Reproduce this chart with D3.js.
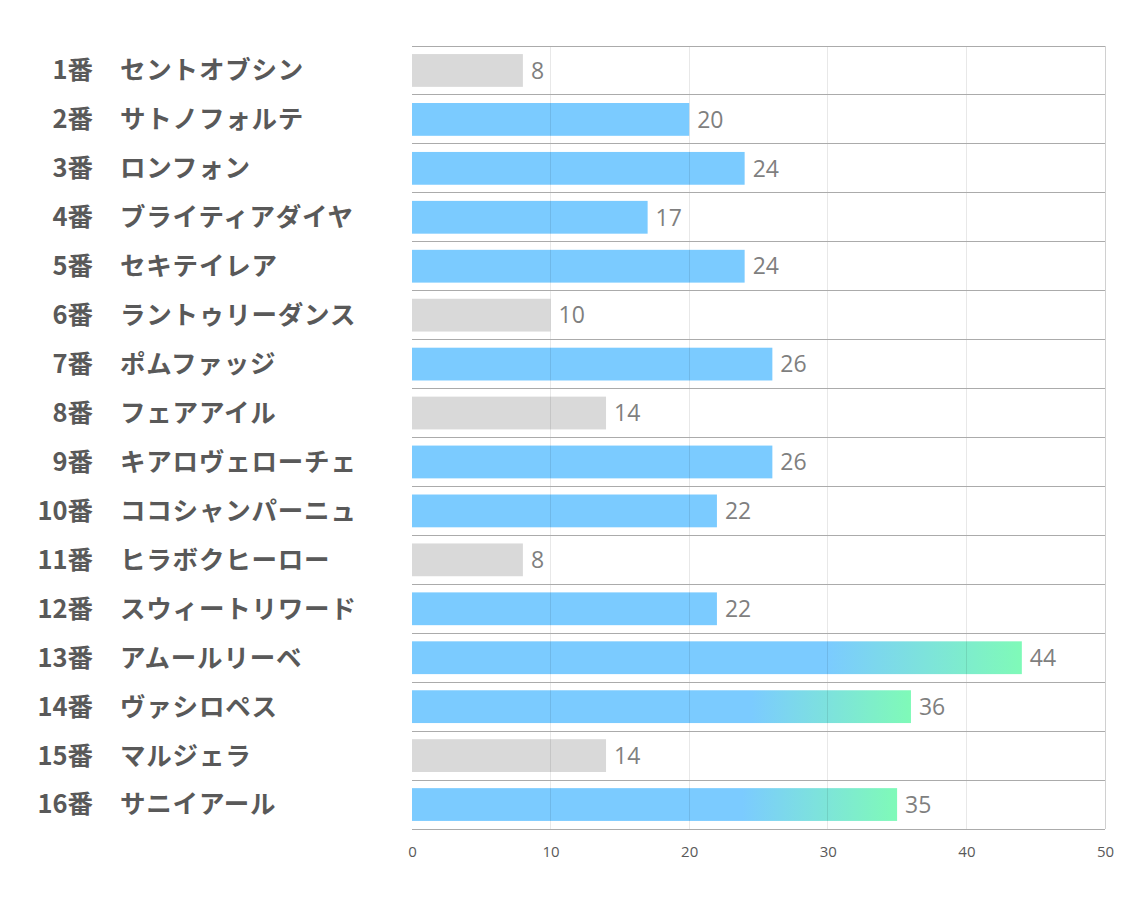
<!DOCTYPE html>
<html><head><meta charset="utf-8">
<script src="https://cdn.jsdelivr.net/npm/d3@7"></script>
<style>body{margin:0;background:#fff}svg{display:block}</style>
</head><body>
<svg id="c" width="1134" height="907"></svg>
<script>
const numbers = ["1番","2番","3番","4番","5番","6番","7番","8番","9番","10番","11番","12番","13番","14番","15番","16番"];
const names = ["セントオブシン","サトノフォルテ","ロンフォン","ブライティアダイヤ","セキテイレア","ラントゥリーダンス","ポムファッジ","フェアアイル","キアロヴェローチェ","ココシャンパーニュ","ヒラボクヒーロー","スウィートリワード","アムールリーベ","ヴァシロペス","マルジェラ","サニイアール"];
const values = [8,20,24,17,24,10,26,14,26,22,8,22,44,36,14,35];
const groups = ["gray","blue","blue","blue","blue","gray","blue","gray","blue","blue","gray","blue","grad","grad","gray","grad"];
const xTicks = [0,10,20,30,40,50];

(function(){
const svg = d3.select("#c");
const L = 412, R = 1105, T = 46, B = 829;
const x = d3.scaleLinear().domain([0,50]).range([L,R]);
const y = d3.scaleBand().domain(d3.range(values.length)).range([T,B]).paddingInner(0.33).paddingOuter(0.165);
const rowH = (B-T)/values.length;

const defs = svg.append("defs");
const g = defs.append("linearGradient").attr("id","grad").attr("x1","0").attr("x2","1").attr("y1","0").attr("y2","0");
g.append("stop").attr("offset","0.68").attr("stop-color","#7bcbff");
g.append("stop").attr("offset","1").attr("stop-color","#7ffab8");
const fills = {gray:"#d9d9d9", blue:"#7bcbff", grad:"url(#grad)"};

svg.append("g").selectAll("rect").data(values).join("rect")
  .attr("x", x(0)).attr("y",(d,i)=>y(i)).attr("width",d=>x(d)-x(0)).attr("height",y.bandwidth())
  .attr("fill",(d,i)=>fills[groups[i]]);

svg.append("g").selectAll("line").data(xTicks.slice(1)).join("line")
  .attr("x1",d=>x(d)).attr("x2",d=>x(d)).attr("y1",T).attr("y2",B)
  .attr("stroke", d=> d===50 ? "#d0d0d0" : "rgba(0,0,0,0.09)").attr("stroke-width",1).attr("shape-rendering","crispEdges");

svg.append("g").selectAll("line").data(d3.range(values.length+1)).join("line")
  .attr("x1",L).attr("x2",R).attr("y1",i=>T+i*rowH).attr("y2",i=>T+i*rowH)
  .attr("stroke","#ababab").attr("stroke-width",1).attr("shape-rendering","crispEdges");

svg.append("g").selectAll("text").data(values).join("text")
  .attr("x",d=>x(d)+8).attr("y",(d,i)=>y(i)+y.bandwidth()/2).attr("dy","0.36em")
  .attr("font-family","'Open Sans', sans-serif").attr("font-size",23).attr("fill","#7f7f7f")
  .text(d=>d);

const ax = svg.append("g").attr("transform",`translate(0,${B})`)
  .call(d3.axisBottom(x).tickValues(xTicks).tickSize(0).tickPadding(17));
ax.select(".domain").remove();
ax.selectAll("text").attr("font-family","'Open Sans', sans-serif").attr("font-size",15).attr("fill","#595959");

const lab = svg.append("g").attr("font-family","'Noto Sans CJK JP', sans-serif").attr("font-weight","bold").attr("font-size",25.5).attr("fill","#595959");
lab.selectAll("text.n").data(numbers).join("text").attr("class","n")
  .attr("x",93).attr("y",(d,i)=>T+(i+0.5)*rowH).attr("dy","0.35em").attr("text-anchor","end").text(d=>d);
lab.selectAll("text.m").data(names).join("text").attr("class","m")
  .attr("x",120).attr("y",(d,i)=>T+(i+0.5)*rowH).attr("dy","0.35em").attr("letter-spacing","0.8").text(d=>d);
})();
</script>
</body></html>
